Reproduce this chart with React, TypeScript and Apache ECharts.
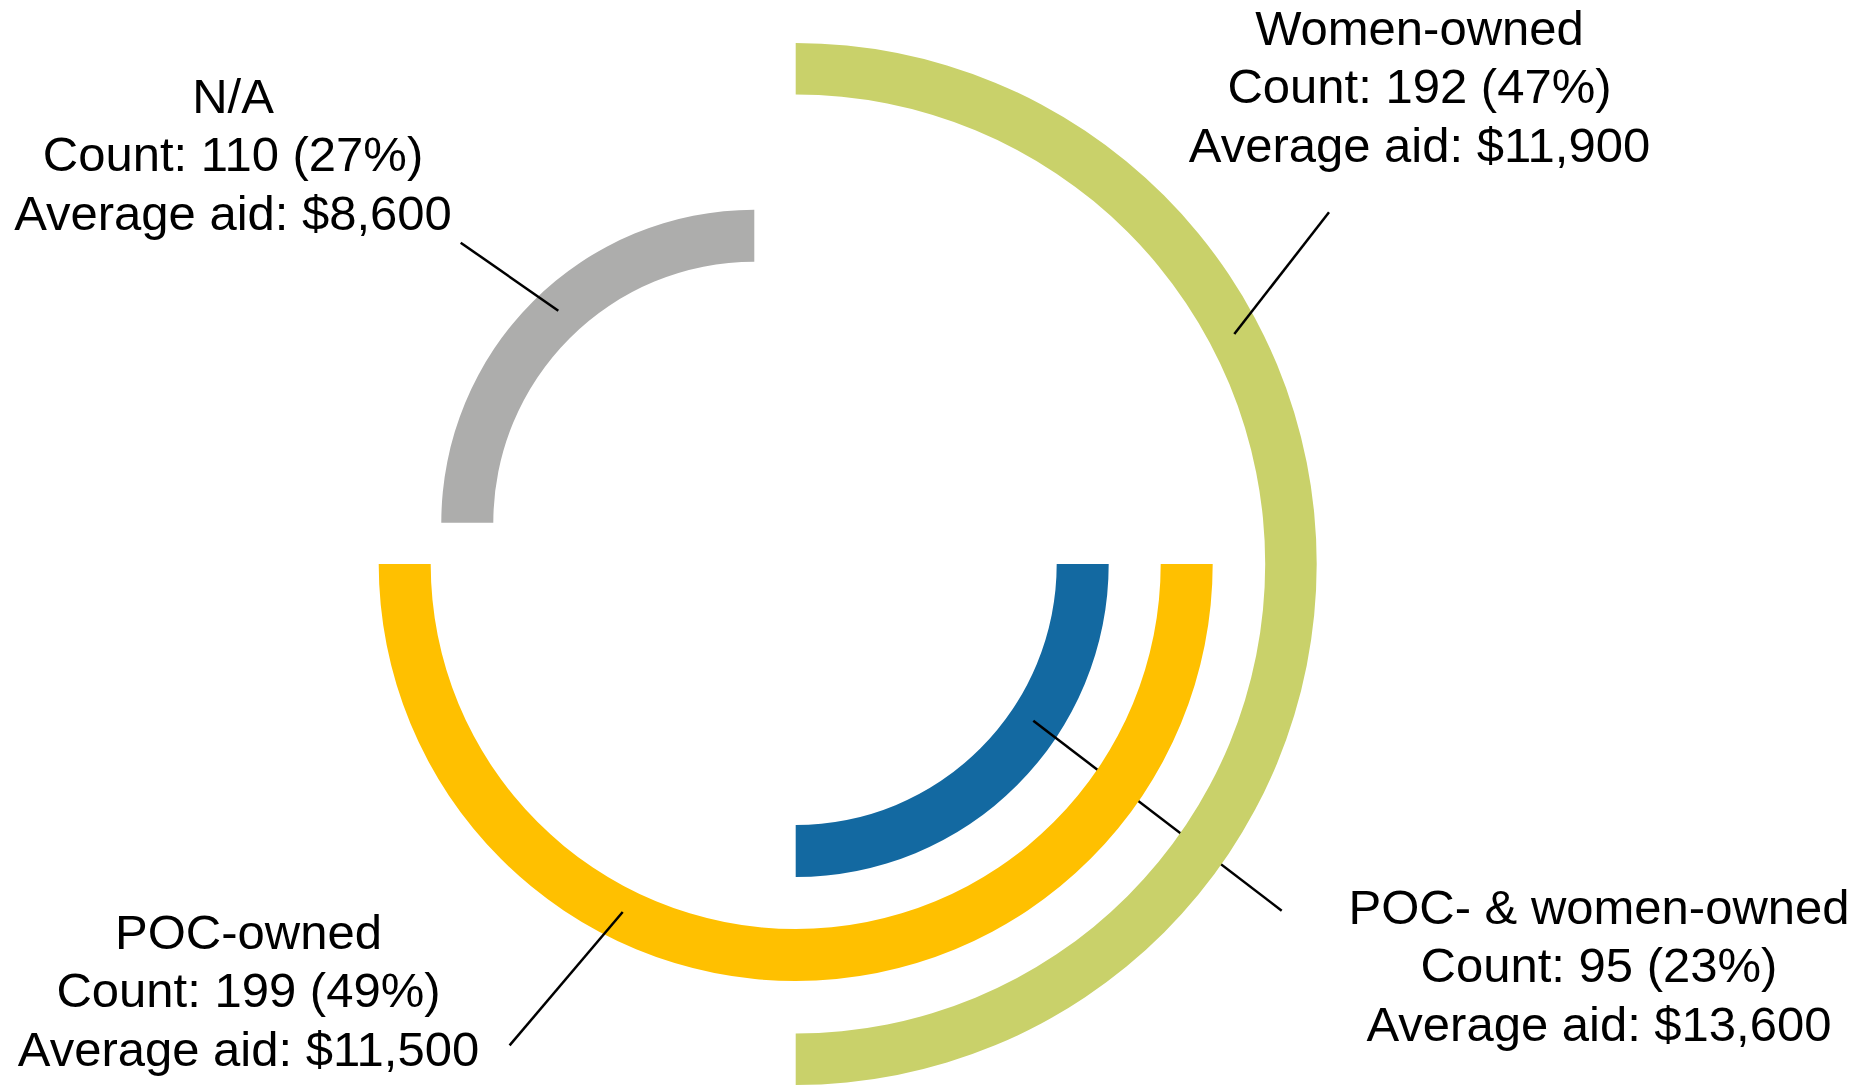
import React, { useEffect, useRef } from "react";
import * as echarts from "echarts";

// ---- data ----
const categories = ["Women-owned", "POC-owned", "POC- & women-owned", "N/A"];
const counts = [192, 199, 95, 110];
const percents = [47, 49, 23, 27];
const averageAid = [11900, 11500, 13600, 8600];
// arc span (degrees) and start angle (degrees, 0 = 3 o'clock, counter-clockwise positive)
const arcSpans = [180, 180, 90, 90];
const arcStarts = [90, 0, 0, 180];

const colors = ["#C9D16A", "#FFC000", "#1369A1", "#ADADAC"];

const fmt = (n: number) => "$" + n.toLocaleString("en-US");
const labelText = (i: number) =>
  `${categories[i]}\nCount: ${counts[i]} (${percents[i]}%)\nAverage aid: ${fmt(averageAid[i])}`;

export default function App() {
  const ref = useRef<HTMLDivElement>(null);

  useEffect(() => {
    document.body.style.margin = "0";
    if (!ref.current) return;
    const chart = echarts.init(ref.current, null, { renderer: "svg" });

    const cx = 795.7;
    const cy = 564;
    const ringLayout = [
      { center: [cx, cy], radius: [469.5, 521], z: 3 },
      { center: [cx, cy], radius: [365, 417], z: 3 },
      { center: [cx, cy], radius: [261, 313], z: 1 },
      { center: [cx - 41.4, cy - 41.3], radius: [261, 313], z: 3 },
    ];

    const series = categories.map((name, i) => ({
      type: "pie",
      name,
      center: ringLayout[i].center,
      radius: ringLayout[i].radius,
      z: ringLayout[i].z,
      startAngle: arcStarts[i],
      clockwise: true,
      minAngle: 0,
      avoidLabelOverlap: false,
      silent: true,
      label: { show: false },
      labelLine: { show: false },
      emphasis: { disabled: true },
      itemStyle: { borderWidth: 0 },
      data: [
        { name, value: arcSpans[i], itemStyle: { color: colors[i] } },
        { name: "rest", value: 360 - arcSpans[i], itemStyle: { color: "rgba(0,0,0,0)" } },
      ],
    }));

    const font = "49px 'Liberation Sans', Arial, sans-serif";
    const labelPos = [
      [1419.5, 86],
      [248.5, 990],
      [1599, 965],
      [233, 154],
    ];
    const leaderLines = [
      { x1: 1329, y1: 212.3, x2: 1234.3, y2: 334, z: 10 },
      { x1: 509.6, y1: 1045.4, x2: 622.7, y2: 912, z: 10 },
      { x1: 1033.3, y1: 720.7, x2: 1281.7, y2: 910.7, z: 2 },
      { x1: 460.7, y1: 242.7, x2: 558.3, y2: 310.7, z: 10 },
    ];

    const graphic: any[] = [];
    categories.forEach((_, i) => {
      graphic.push({
        type: "text",
        x: labelPos[i][0],
        y: labelPos[i][1],
        z: 10,
        silent: true,
        style: {
          text: labelText(i),
          font,
          fill: "#000",
          align: "center",
          verticalAlign: "middle",
          textAlign: "center",
          textVerticalAlign: "middle",
          lineHeight: 58.5,
        },
      });
      const l = leaderLines[i];
      graphic.push({
        type: "line",
        z: l.z,
        silent: true,
        shape: { x1: l.x1, y1: l.y1, x2: l.x2, y2: l.y2 },
        style: { stroke: "#000", lineWidth: 2.5 },
      });
    });

    chart.setOption({
      animation: false,
      backgroundColor: "#fff",
      series,
      graphic,
    });

    return () => chart.dispose();
  }, []);

  return <div ref={ref} style={{ width: 1867, height: 1085 }} />;
}
